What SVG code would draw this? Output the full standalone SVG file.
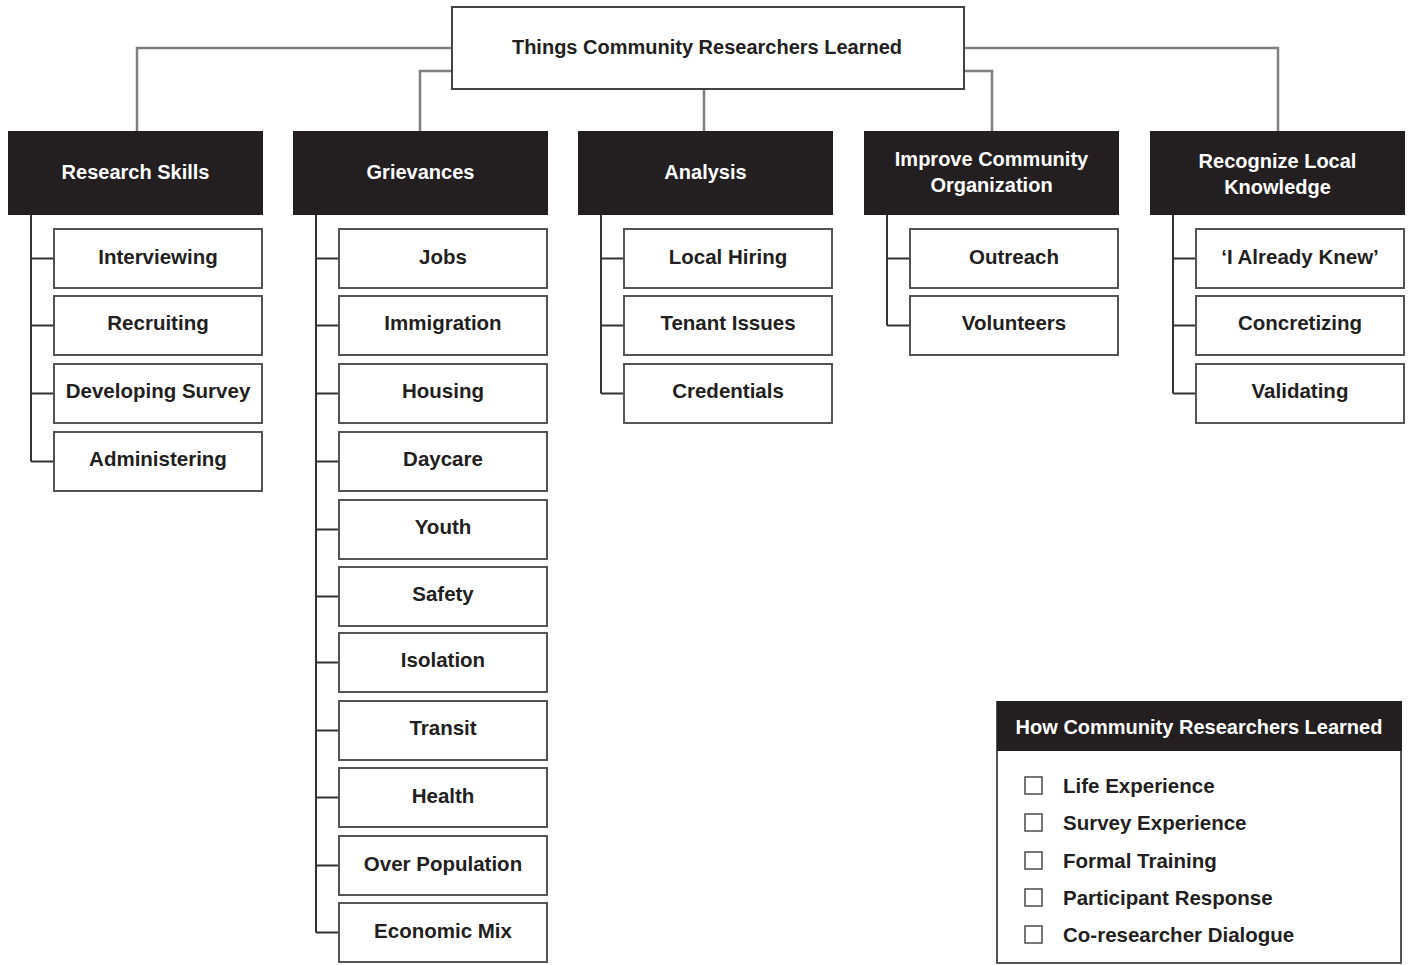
<svg xmlns="http://www.w3.org/2000/svg" width="1410" height="965" viewBox="0 0 1410 965">
<style>
  .bg{fill:#fff}
  .hdr{fill:#231f20}
  .leaf{fill:#fff;stroke:#555;stroke-width:2}
  .root{fill:#fff;stroke:#444;stroke-width:2}
  .t{font-family:"Liberation Sans",Arial,sans-serif;font-weight:bold;font-size:20.5px;fill:#231f20;text-anchor:middle;dominant-baseline:central}
  .w{fill:#fff;font-size:20px}
  .top{fill:none;stroke:#808080;stroke-width:2.5}
  .tree{fill:none;stroke:#333;stroke-width:2}
  .cb{fill:#fff;stroke:#555;stroke-width:1.6}
  .lg{text-anchor:start}
</style>
<rect class="bg" x="0" y="0" width="1410" height="965"/>
<g id="connectors">
  <path class="top" d="M452 48 H137 V131"/>
  <path class="top" d="M452 71 H420 V131"/>
  <path class="top" d="M704 89 V131"/>
  <path class="top" d="M964 71 H992 V131"/>
  <path class="top" d="M964 48 H1278 V131"/>
  <path class="tree" d="M31 215 V461.5 M31 258.5 H54 M31 325.5 H54 M31 393.5 H54 M31 461.5 H54"/>
  <path class="tree" d="M316 215 V932.5 M316 258.5 H339 M316 325.5 H339 M316 393.5 H339 M316 461.5 H339 M316 529.5 H339 M316 596.5 H339 M316 662.5 H339 M316 730.5 H339 M316 797.5 H339 M316 865.5 H339 M316 932.5 H339"/>
  <path class="tree" d="M601 215 V393.5 M601 258.5 H624 M601 325.5 H624 M601 393.5 H624"/>
  <path class="tree" d="M887 215 V325.5 M887 258.5 H910 M887 325.5 H910"/>
  <path class="tree" d="M1173 215 V393.5 M1173 258.5 H1196 M1173 325.5 H1196 M1173 393.5 H1196"/>
</g>
<g id="root">
  <rect class="root" x="452" y="7" width="512" height="82"/>
  <text class="t" x="707" y="47" style="font-size:20px">Things Community Researchers Learned</text>
</g>
<g id="h-research">
  <rect class="hdr" x="8" y="131" width="255" height="84"/>
  <text class="t w" x="135.5" y="172">Research Skills</text>
</g>
<g id="h-grievances">
  <rect class="hdr" x="293" y="131" width="255" height="84"/>
  <text class="t w" x="420.5" y="172">Grievances</text>
</g>
<g id="h-analysis">
  <rect class="hdr" x="578" y="131" width="255" height="84"/>
  <text class="t w" x="705.5" y="172">Analysis</text>
</g>
<g id="h-improve">
  <rect class="hdr" x="864" y="131" width="255" height="84"/>
  <text class="t w" x="991.5" y="159">Improve Community</text>
  <text class="t w" x="991.5" y="185">Organization</text>
</g>
<g id="h-recognize">
  <rect class="hdr" x="1150" y="131" width="255" height="84"/>
  <text class="t w" x="1277.5" y="161">Recognize Local</text>
  <text class="t w" x="1277.5" y="187">Knowledge</text>
</g>
<g id="l-interviewing"><rect class="leaf" x="54" y="229" width="208" height="59"/><text class="t" x="158" y="256">Interviewing</text></g>
<g id="l-recruiting"><rect class="leaf" x="54" y="296" width="208" height="59"/><text class="t" x="158" y="322">Recruiting</text></g>
<g id="l-developing"><rect class="leaf" x="54" y="364" width="208" height="59"/><text class="t" x="158" y="390">Developing Survey</text></g>
<g id="l-administering"><rect class="leaf" x="54" y="432" width="208" height="59"/><text class="t" x="158" y="458">Administering</text></g>

<g id="l-jobs"><rect class="leaf" x="339" y="229" width="208" height="59"/><text class="t" x="443" y="256">Jobs</text></g>
<g id="l-immigration"><rect class="leaf" x="339" y="296" width="208" height="59"/><text class="t" x="443" y="322">Immigration</text></g>
<g id="l-housing"><rect class="leaf" x="339" y="364" width="208" height="59"/><text class="t" x="443" y="390">Housing</text></g>
<g id="l-daycare"><rect class="leaf" x="339" y="432" width="208" height="59"/><text class="t" x="443" y="458">Daycare</text></g>
<g id="l-youth"><rect class="leaf" x="339" y="500" width="208" height="59"/><text class="t" x="443" y="526">Youth</text></g>
<g id="l-safety"><rect class="leaf" x="339" y="567" width="208" height="59"/><text class="t" x="443" y="593">Safety</text></g>
<g id="l-isolation"><rect class="leaf" x="339" y="633" width="208" height="59"/><text class="t" x="443" y="659">Isolation</text></g>
<g id="l-transit"><rect class="leaf" x="339" y="701" width="208" height="59"/><text class="t" x="443" y="727">Transit</text></g>
<g id="l-health"><rect class="leaf" x="339" y="768" width="208" height="59"/><text class="t" x="443" y="795">Health</text></g>
<g id="l-overpop"><rect class="leaf" x="339" y="836" width="208" height="59"/><text class="t" x="443" y="863">Over Population</text></g>
<g id="l-econ"><rect class="leaf" x="339" y="903" width="208" height="59"/><text class="t" x="443" y="930">Economic Mix</text></g>

<g id="l-localhiring"><rect class="leaf" x="624" y="229" width="208" height="59"/><text class="t" x="728" y="256">Local Hiring</text></g>
<g id="l-tenant"><rect class="leaf" x="624" y="296" width="208" height="59"/><text class="t" x="728" y="322">Tenant Issues</text></g>
<g id="l-credentials"><rect class="leaf" x="624" y="364" width="208" height="59"/><text class="t" x="728" y="390">Credentials</text></g>

<g id="l-outreach"><rect class="leaf" x="910" y="229" width="208" height="59"/><text class="t" x="1014" y="256">Outreach</text></g>
<g id="l-volunteers"><rect class="leaf" x="910" y="296" width="208" height="59"/><text class="t" x="1014" y="322">Volunteers</text></g>

<g id="l-alreadyknew"><rect class="leaf" x="1196" y="229" width="208" height="59"/><text class="t" x="1300" y="256">‘I Already Knew’</text></g>
<g id="l-concretizing"><rect class="leaf" x="1196" y="296" width="208" height="59"/><text class="t" x="1300" y="322">Concretizing</text></g>
<g id="l-validating"><rect class="leaf" x="1196" y="364" width="208" height="59"/><text class="t" x="1300" y="390">Validating</text></g>

<g id="legend">
  <rect class="leaf" x="997" y="702" width="404" height="261"/>
  <rect class="hdr" x="997" y="701" width="405" height="50"/>
  <text class="t w" x="1199" y="727">How Community Researchers Learned</text>
  <rect class="cb" x="1025" y="777" width="17" height="17"/>
  <text class="t lg" x="1063" y="785">Life Experience</text>
  <rect class="cb" x="1025" y="814" width="17" height="17"/>
  <text class="t lg" x="1063" y="822">Survey Experience</text>
  <rect class="cb" x="1025" y="852" width="17" height="17"/>
  <text class="t lg" x="1063" y="860">Formal Training</text>
  <rect class="cb" x="1025" y="889" width="17" height="17"/>
  <text class="t lg" x="1063" y="897">Participant Response</text>
  <rect class="cb" x="1025" y="926" width="17" height="17"/>
  <text class="t lg" x="1063" y="934">Co-researcher Dialogue</text>
</g>
</svg>
